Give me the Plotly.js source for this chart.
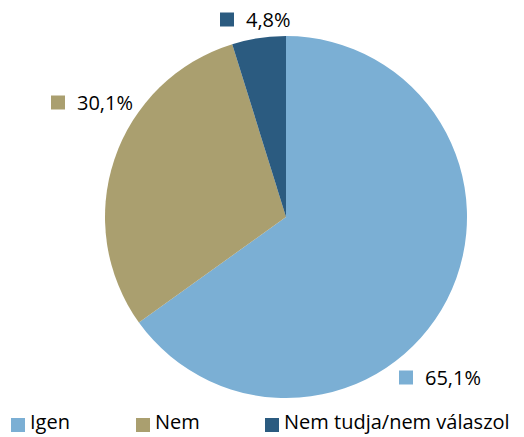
<!DOCTYPE html>
<html>
<head>
<meta charset="utf-8">
<script src="https://cdn.plot.ly/plotly-3.0.1.min.js"></script>
<style>html,body{margin:0;padding:0;background:#fff;}#chart{width:524px;height:437px;}</style>
</head>
<body>
<div id="chart"></div>
<script>
const categories = ["Igen", "Nem", "Nem tudja/nem válaszol"];
const values = [65.1, 30.1, 4.8];
const labelTexts = ["65,1%", "30,1%", "4,8%"];
const colors = ["#7BAFD4", "#AA9F6F", "#2B5B80"];

const W = 524, H = 437;
const FONT = "'Open Sans', sans-serif";
const FSIZE = 20;
// [squareLeft, centerY, textLeft] in pixels
const labelPos = [[399, 377.5, 425], [51, 102.5, 77], [220, 19.5, 246]];
const legendPos = [[11, 425, 30], [136, 425, 155], [265, 425, 284]];
const SQ = 14;

const shapes = [];
const annotations = [];
function addKey(pos, color, text, atBottom) {
  shapes.push({
    type: "rect", xref: "paper", yref: "paper",
    x0: pos[0] / W, x1: (pos[0] + SQ) / W,
    y0: 1 - (pos[1] + SQ / 2) / H, y1: 1 - (pos[1] - SQ / 2) / H,
    fillcolor: color, line: {width: 0}
  });
  annotations.push({
    xref: "paper", yref: "paper",
    x: (pos[2] - 2) / W, y: atBottom ? 0 : 1 - pos[1] / H,
    xanchor: "left", yanchor: atBottom ? "bottom" : "middle",
    text: text, showarrow: false,
    font: {family: FONT, size: FSIZE, color: "#000"}
  });
}
categories.forEach((c, i) => addKey(labelPos[i], colors[i], labelTexts[i], false));
categories.forEach((c, i) => addKey(legendPos[i], colors[i], c, true));

const trace = {
  type: "pie",
  labels: categories,
  values: values,
  sort: false,
  direction: "clockwise",
  rotation: 0,
  marker: {colors: colors, line: {width: 0}},
  textinfo: "none",
  textposition: "none",
  hoverinfo: "label+percent",
  domain: {x: [105 / W, 467 / W], y: [1 - 398 / H, 1 - 36 / H]}
};

const layout = {
  width: W, height: H,
  margin: {l: 0, r: 0, t: 0, b: 0},
  paper_bgcolor: "#fff",
  showlegend: false,
  shapes: shapes,
  annotations: annotations
};

Plotly.newPlot("chart", [trace], layout, {displayModeBar: false, staticPlot: true});
</script>
</body>
</html>
